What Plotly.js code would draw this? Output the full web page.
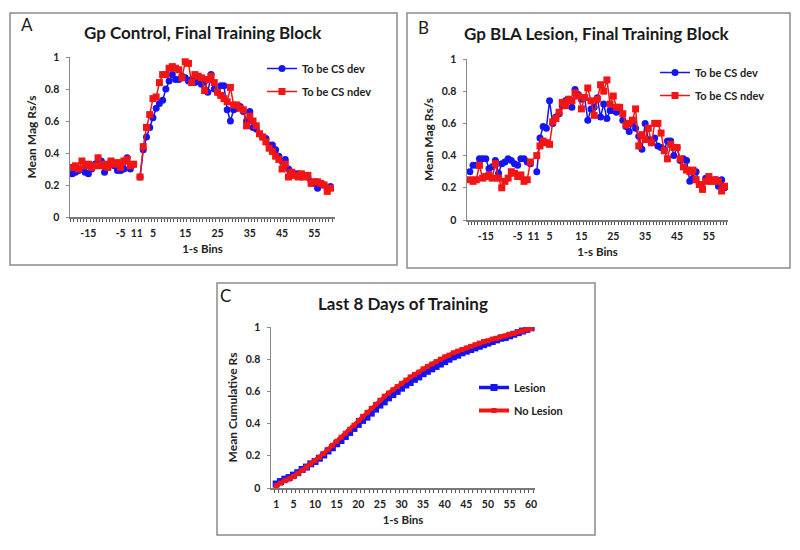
<!DOCTYPE html>
<html>
<head>
<meta charset="utf-8">
<script src="https://cdn.plot.ly/plotly-3.0.1.min.js"></script>
<style>html,body{margin:0;padding:0;background:#fff;}#chart{width:800px;height:550px;}</style>
</head>
<body>
<div id="chart"></div>
<script>
// ---------- Data ----------
// Bins: baseline (pre-CS) -20..-1 and CS period 1..60 (bin 0 is an empty gap)
var baseBins = [-20,-19,-18,-17,-16,-15,-14,-13,-12,-11,-10,-9,-8,-7,-6,-5,-4,-3,-2,-1];
var csBins = [1,2,3,4,5,6,7,8,9,10,11,12,13,14,15,16,17,18,19,20,21,22,23,24,25,26,27,28,29,30,
              31,32,33,34,35,36,37,38,39,40,41,42,43,44,45,46,47,48,49,50,51,52,53,54,55,56,57,58,59,60];

// Panel A: Gp Control
var ctrlDevBase  = [0.27,0.28,0.29,0.30,0.28,0.27,0.30,0.33,0.35,0.35,0.28,0.31,0.33,0.32,0.29,0.29,0.30,0.37,0.30,0.33];
var ctrlDevCS    = [0.25,0.42,0.50,0.56,0.62,0.68,0.71,0.73,0.80,0.85,0.89,0.86,0.86,0.88,0.87,0.85,0.86,0.84,0.86,0.83,
                    0.85,0.78,0.89,0.80,0.78,0.82,0.82,0.67,0.60,0.67,0.68,0.69,0.66,0.60,0.66,0.56,0.55,0.52,0.50,0.49,
                    0.45,0.45,0.42,0.38,0.35,0.36,0.30,0.28,0.27,0.27,0.25,0.26,0.25,0.22,0.21,0.18,0.21,0.20,0.17,0.19];
var ctrlNdevBase = [0.31,0.32,0.30,0.35,0.32,0.33,0.31,0.32,0.37,0.32,0.33,0.31,0.35,0.33,0.34,0.31,0.35,0.36,0.32,0.33];
var ctrlNdevCS   = [0.25,0.44,0.56,0.64,0.74,0.75,0.84,0.89,0.89,0.93,0.94,0.93,0.92,0.87,0.97,0.96,0.84,0.89,0.88,0.87,
                    0.79,0.86,0.88,0.84,0.78,0.76,0.74,0.72,0.81,0.70,0.70,0.68,0.67,0.57,0.63,0.60,0.57,0.52,0.50,0.47,
                    0.43,0.41,0.38,0.36,0.30,0.33,0.25,0.28,0.26,0.25,0.27,0.25,0.26,0.21,0.22,0.22,0.21,0.20,0.16,0.18];

// Panel B: Gp BLA Lesion
var lesDevBase  = [0.30,0.34,0.34,0.38,0.38,0.38,0.32,0.33,0.37,0.29,0.35,0.36,0.38,0.37,0.35,0.34,0.38,0.38,0.36,0.35];
var lesDevCS    = [0.30,0.51,0.58,0.57,0.74,0.60,0.64,0.66,0.71,0.74,0.75,0.70,0.81,0.78,0.75,0.76,0.62,0.69,0.70,0.76,
                   0.64,0.72,0.63,0.68,0.68,0.67,0.69,0.62,0.58,0.55,0.60,0.57,0.52,0.44,0.60,0.50,0.48,0.51,0.46,0.45,
                   0.44,0.49,0.49,0.40,0.45,0.37,0.38,0.37,0.24,0.26,0.30,0.22,0.20,0.26,0.25,0.24,0.25,0.21,0.25,0.20];
var lesNdevBase = [0.25,0.24,0.25,0.34,0.26,0.27,0.28,0.26,0.35,0.26,0.20,0.24,0.26,0.30,0.29,0.27,0.28,0.24,0.25,0.36];
var lesNdevCS   = [0.40,0.46,0.49,0.48,0.47,0.61,0.63,0.67,0.73,0.71,0.75,0.74,0.79,0.77,0.69,0.76,0.82,0.74,0.65,0.75,
                   0.84,0.80,0.87,0.72,0.77,0.70,0.70,0.66,0.59,0.60,0.62,0.69,0.46,0.53,0.50,0.57,0.48,0.60,0.60,0.54,
                   0.43,0.38,0.47,0.45,0.45,0.38,0.33,0.31,0.30,0.31,0.25,0.22,0.19,0.24,0.27,0.24,0.25,0.24,0.18,0.21];

// Panel C: Last 8 days, cumulative
var cumLesion   = [0.025,0.04,0.055,0.065,0.08,0.095,0.115,0.13,0.15,0.165,0.185,0.205,0.23,0.25,0.275,0.295,0.32,0.345,0.37,0.395,
                   0.42,0.44,0.465,0.49,0.515,0.535,0.56,0.58,0.60,0.62,0.64,0.655,0.675,0.69,0.71,0.725,0.74,0.755,0.77,0.785,
                   0.80,0.815,0.825,0.84,0.85,0.86,0.87,0.88,0.89,0.90,0.91,0.92,0.93,0.935,0.945,0.955,0.965,0.975,0.985,0.995];
var cumNoLesion = [0.015,0.03,0.045,0.055,0.07,0.09,0.11,0.13,0.15,0.17,0.19,0.215,0.24,0.265,0.29,0.315,0.34,0.365,0.39,0.42,
                   0.445,0.47,0.495,0.52,0.545,0.57,0.59,0.61,0.63,0.65,0.67,0.69,0.705,0.72,0.74,0.755,0.77,0.785,0.80,0.815,
                   0.825,0.84,0.85,0.86,0.87,0.88,0.89,0.90,0.91,0.915,0.925,0.93,0.94,0.945,0.955,0.96,0.97,0.975,0.985,0.99];

var abTickVals = [-15,-5,0,5,15,25,35,45,55];
var abTickText = ['-15','-5','11','5','15','25','35','45','55'];
var cTickVals  = [1,5,10,15,20,25,30,35,40,45,50,55,60];
var cTickText  = ['1','5','10','15','20','25','30','35','40','45','50','55','60'];

// ---------- Helpers ----------
var BLUE = '#1515f2', RED = '#f21515';
var allBins = baseBins.concat([0]).concat(csBins);
function joinSeries(base, cs){ return base.concat([null]).concat(cs); }

var FONT = 'Lato, "Open Sans", sans-serif';
var tickFont = {family: FONT, size: 10.5, color: '#222', weight: 'bold'};
var yTitleFont = {family: FONT, size: 12, color: '#222', weight: 'bold'};
var xTitleFont = {family: FONT, size: 11.5, color: '#222', weight: 'bold'};

function xAxisAB(domain, range){
  return {domain: domain, range: range, tickmode: 'array', tickvals: abTickVals, ticktext: abTickText,
    showline: true, linecolor: '#7a7a7a', linewidth: 1.5, showgrid: false, zeroline: false, ticks: '',
    minor: {tickmode: 'linear', tick0: 0.5, dtick: 1, ticks: 'outside', ticklen: 3, tickcolor: '#555', tickwidth: 1, showgrid: false},
    tickfont: tickFont, ticklabelstandoff: 6,
    title: {text: '1-s Bins', font: xTitleFont, standoff: 7}};
}
function yAxis(domain, title){
  return {domain: domain, range: [0, 1], dtick: 0.2, tick0: 0, showline: true, linecolor: '#8a8a8a', linewidth: 1.5,
    showgrid: false, zeroline: false, ticks: 'outside', ticklen: 3, tickcolor: '#8a8a8a',
    tickfont: tickFont, ticklabelstandoff: 4,
    title: {text: title, font: yTitleFont, standoff: 5}};
}

var traces = [
  {x: allBins, y: joinSeries(ctrlDevBase, ctrlDevCS), xaxis: 'x', yaxis: 'y', name: 'To be CS dev', legend: 'legend', legendgroup: 'a1',
   mode: 'lines+markers', line: {color: BLUE, width: 1.5}, marker: {symbol: 'circle', size: 7, color: BLUE}, connectgaps: false},
  {x: allBins, y: joinSeries(ctrlNdevBase, ctrlNdevCS), xaxis: 'x', yaxis: 'y', name: 'To be CS ndev', legend: 'legend', legendgroup: 'a2',
   mode: 'lines+markers', line: {color: RED, width: 1.5}, marker: {symbol: 'square', size: 7, color: RED}, connectgaps: false},
  {x: allBins, y: joinSeries(lesDevBase, lesDevCS), xaxis: 'x2', yaxis: 'y2', name: 'To be CS dev', legend: 'legend2', legendgroup: 'b1',
   mode: 'lines+markers', line: {color: BLUE, width: 1.5}, marker: {symbol: 'circle', size: 7, color: BLUE}, connectgaps: false},
  {x: allBins, y: joinSeries(lesNdevBase, lesNdevCS), xaxis: 'x2', yaxis: 'y2', name: 'To be CS ndev', legend: 'legend2', legendgroup: 'b2',
   mode: 'lines+markers', line: {color: RED, width: 1.5}, marker: {symbol: 'square', size: 7, color: RED}, connectgaps: false},
  {x: csBins, y: cumLesion, xaxis: 'x3', yaxis: 'y3', name: 'Lesion', legend: 'legend3', legendgroup: 'c1',
   mode: 'lines+markers', line: {color: BLUE, width: 3.5}, marker: {symbol: 'square', size: 7, color: BLUE}},
  {x: csBins, y: cumNoLesion, xaxis: 'x3', yaxis: 'y3', name: 'No Lesion', legend: 'legend3', legendgroup: 'c2',
   mode: 'lines+markers', line: {color: RED, width: 4}, marker: {symbol: 'square', size: 5, color: RED}}
];

function px(x){ return x / 800; }
function py(y){ return 1 - y / 550; }

var legendFont = {family: FONT, size: 11, color: '#222', weight: 'bold'};
function legendAt(x, y){
  return {x: x, y: y, xanchor: 'left', yanchor: 'top', bgcolor: 'rgba(0,0,0,0)', font: legendFont,
    traceorder: 'grouped', tracegroupgap: 4, itemwidth: 30};
}

function frame(x0, y0, x1, y1){
  return {type: 'rect', xref: 'paper', yref: 'paper', x0: px(x0), x1: px(x1), y0: py(y0), y1: py(y1),
    line: {color: '#8c8c8c', width: 1.5}, fillcolor: 'rgba(0,0,0,0)', layer: 'below'};
}
function ann(text, x, y, size, bold){
  return {text: text, xref: 'paper', yref: 'paper', x: px(x), y: py(y), xanchor: 'center', yanchor: 'middle',
    showarrow: false, font: {family: FONT, size: size, color: '#1a1a1a', weight: bold ? 'bold' : 'normal'}};
}

var layout = {
  width: 800, height: 550, margin: {l: 0, r: 0, t: 0, b: 0},
  paper_bgcolor: '#ffffff', plot_bgcolor: '#ffffff', showlegend: true,
  xaxis: xAxisAB([px(70), px(335)], [-20.7, 61.4]),
  yaxis: yAxis([py(217), py(57)], 'Mean Mag Rs/s'),
  xaxis2: xAxisAB([px(467), px(728)], [-20.9, 61.0]),
  yaxis2: yAxis([py(220), py(59)], 'Mean Mag Rs/s'),
  xaxis3: {domain: [px(271), px(535)], range: [-0.2, 60.9], tickmode: 'array', tickvals: cTickVals, ticktext: cTickText,
    showline: true, linecolor: '#7a7a7a', linewidth: 1.5, showgrid: false, zeroline: false, ticks: '',
    minor: {tickmode: 'linear', tick0: 0.5, dtick: 1, ticks: 'outside', ticklen: 3, tickcolor: '#555', tickwidth: 1, showgrid: false},
    tickfont: tickFont, ticklabelstandoff: 6,
    title: {text: '1-s Bins', font: xTitleFont, standoff: 7}},
  yaxis3: yAxis([py(488), py(327)], 'Mean Cumulative Rs'),
  legend: legendAt(px(262), py(54)),
  legend2: legendAt(px(655), py(58)),
  legend3: legendAt(px(474), py(373)),
  shapes: [frame(10, 13, 397, 265), frame(407, 13, 790, 268), frame(217, 283, 595, 535)],
  annotations: [
    ann('A', 27, 25, 17, false),
    ann('Gp Control, Final Training Block', 203, 32, 17, true),
    ann('B', 423, 28, 17, false),
    ann('Gp BLA Lesion, Final Training Block', 597, 33, 17, true),
    ann('C', 225, 295, 17, false),
    ann('Last 8 Days of Training', 403, 303, 17, true)
  ]
};

layout.xaxis.anchor = 'y'; layout.yaxis.anchor = 'x';
layout.xaxis2.anchor = 'y2'; layout.yaxis2.anchor = 'x2';
layout.xaxis3.anchor = 'y3'; layout.yaxis3.anchor = 'x3';

Plotly.newPlot('chart', traces, layout, {staticPlot: true, displayModeBar: false});
</script>
</body>
</html>
